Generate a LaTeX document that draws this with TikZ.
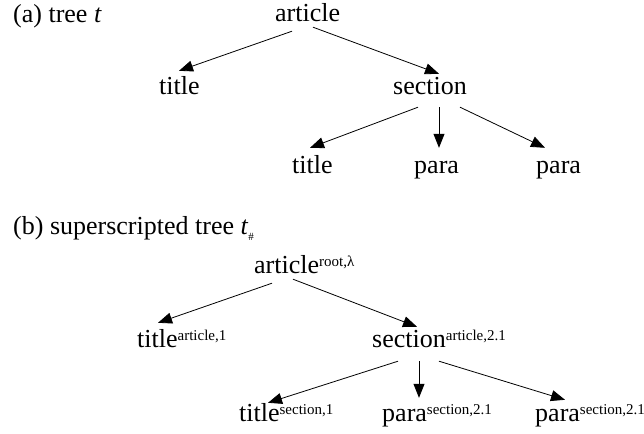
\documentclass[tikz,border=0pt]{standalone}
\usepackage{fontspec}
\setmainfont{Liberation Serif}
\usetikzlibrary{arrows.meta, calc, positioning}
\tikzset{
	lbl/.style={inner sep=0pt, text height=18pt, text depth=0pt, anchor=base west, font=\fontsize{26}{30}\selectfont},
	edge/.style={-{Triangle[length=14pt,width=11pt]}, line width=0.8pt}
}
\newcommand{\supx}[1]{\raisebox{6.5pt}{\fontsize{15}{16}\selectfont #1}}
\newcommand{\subx}[1]{\raisebox{-6pt}{\fontsize{11}{12}\selectfont #1}}

\begin{document}
\begin{tikzpicture}[x=1pt, y=-1pt]
			\useasboundingbox (0,0) rectangle (644,433);
			
			\node[lbl] (capa) at (13,23) {(a) tree \textit{t}};
			
			\node[lbl] (a-art) at (275,22) {article};
			\node[lbl] (a-title) at (159,95) {title};
			\node[lbl] (a-sec) at (393,95) {section};
			\node[lbl] (a-title2) at (292,173) {title};
			\node[lbl] (a-para1) at (414,173) {para};
			\node[lbl] (a-para2) at (536,173) {para};
			
			\draw[edge] ([shift={(17,9)}]a-art.south west) -- ([shift={(20,-6)}]a-title.north west);
			\draw[edge] ([shift={(38,5)}]a-art.south west) -- ([shift={(46,-3)}]a-sec.north west);
			\draw[edge] ([shift={(25,12)}]a-sec.south west) -- ([shift={(18,-7)}]a-title2.north west);
			\draw[edge] ([shift={(46,12)}]a-sec.south west) -- ([shift={(25,-7)}]a-para1.north west);
			\draw[edge] ([shift={(67,12)}]a-sec.south west) -- ([shift={(9,-7)}]a-para2.north west);
			
			\node[lbl] (capb) at (13,234) {(b) superscripted tree \textit{t}\subx{\#}};
			
			\node[lbl] (b-art) at (254,273) {article\supx{root,λ}};
			\node[lbl] (b-title) at (137,347) {title\supx{article,1}};
			\node[lbl] (b-sec) at (372,347) {section\supx{article,2.1}};
			\node[lbl] (b-title2) at (239,421) {title\supx{section,1}};
			\node[lbl] (b-para1) at (382,421) {para\supx{section,2.1}};
			\node[lbl] (b-para2) at (535,421) {para\supx{section,2.1}};
			
			\draw[edge] ([shift={(18,10)}]b-art.south west) -- ([shift={(21,-6)}]b-title.north west);
			\draw[edge] ([shift={(39,6)}]b-art.south west) -- ([shift={(45,-2)}]b-sec.north west);
			\draw[edge] ([shift={(26,14)}]b-sec.south west) -- ([shift={(29,0)}]b-title2.north west);
			\draw[edge] ([shift={(47,14)}]b-sec.south west) -- ([shift={(37,-5)}]b-para1.north west);
			\draw[edge] ([shift={(67,14)}]b-sec.south west) -- ([shift={(30,-3)}]b-para2.north west);
\end{tikzpicture}
\end{document}
